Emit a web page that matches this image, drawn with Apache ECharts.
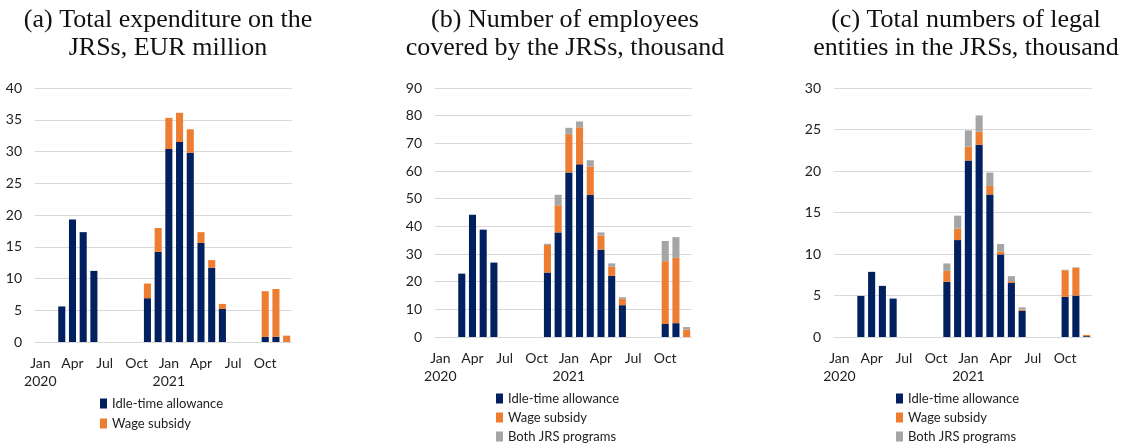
<!DOCTYPE html>
<html>
<head>
<meta charset="utf-8">
<script src="https://cdn.jsdelivr.net/npm/echarts@6/dist/echarts.min.js"></script>
<style>
  html, body { margin: 0; padding: 0; background: #fff; }
  #chart { width: 1124px; height: 443px; }
</style>
</head>
<body>
<div id="chart"></div>
<script>
// Months from Jan 2020 to Dec 2021; a label is shown every third month
const months = [
  'Jan\n2020', 'Feb', 'Mar', 'Apr', 'May', 'Jun', 'Jul', 'Aug', 'Sep', 'Oct', 'Nov', 'Dec',
  'Jan\n2021', 'Feb', 'Mar', 'Apr', 'May', 'Jun', 'Jul', 'Aug', 'Sep', 'Oct', 'Nov', 'Dec'
];

// (a) Total expenditure, EUR million
const expIdle = [null, null, 5.6, 19.3, 17.3, 11.2, null, null, null, null, 6.9, 14.2,
                 30.4, 31.5, 29.8, 15.6, 11.7, 5.2, null, null, null, 0.8, 0.8, null];
const expWage = [null, null, null, null, null, null, null, null, null, null, 2.3, 3.75,
                 4.9, 4.6, 3.7, 1.7, 1.2, 0.8, null, null, null, 7.2, 7.55, 1.0];

// (b) Employees covered, thousand
const empIdle = [null, null, 22.9, 44.2, 38.8, 26.9, null, null, null, null, 23.3, 37.8,
                 59.5, 62.4, 51.3, 31.6, 22.1, 11.5, null, null, null, 4.7, 5.0, null];
const empWage = [null, null, null, null, null, null, null, null, null, null, 10.0, 9.8,
                 13.8, 13.4, 10.3, 5.1, 3.3, 2.3, null, null, null, 22.7, 23.6, 2.7];
const empBoth = [null, null, null, null, null, null, null, null, null, null, 0.4, 3.8,
                 2.3, 2.1, 2.3, 1.1, 1.2, 0.6, null, null, null, 7.3, 7.5, 0.9];

// (c) Legal entities, thousand
const entIdle = [null, null, 4.95, 7.85, 6.16, 4.63, null, null, null, null, 6.65, 11.68,
                 21.26, 23.16, 17.16, 9.95, 6.56, 3.14, null, null, null, 4.83, 4.99, 0.1];
const entWage = [null, null, null, null, null, null, null, null, null, null, 1.32, 1.37,
                 1.66, 1.57, 1.04, 0.36, 0.17, 0.16, null, null, null, 3.22, 3.35, 0.15];
const entBoth = [null, null, null, null, null, null, null, null, null, null, 0.89, 1.57,
                 1.97, 1.97, 1.61, 0.89, 0.6, 0.28, null, null, null, 0.05, 0.05, null];

const titles = [
  '(a) Total expenditure on the\nJRSs, EUR million',
  '(b) Number of employees\ncovered by the JRSs, thousand',
  '(c) Total numbers of legal\nentities in the JRSs, thousand'
];

const IDLE = 'Idle-time allowance', WAGE = 'Wage subsidy', BOTH = 'Both JRS programs';
const NAVY = '#002060', ORANGE = '#ED7D31', GREY = '#A5A5A5';
const LABEL_FONT = 'Lato, "Open Sans", sans-serif';

const chart = echarts.init(document.getElementById('chart'), null, { renderer: 'canvas' });

const grids = [
  { left: 35, width: 257, top: 88, bottom: 101 },
  { left: 435, width: 257, top: 88, bottom: 106 },
  { left: 834, width: 258, top: 88, bottom: 106 }
];
const yMax = [40, 90, 30];
const yStep = [5, 10, 5];
const titleCenters = [163, 560, 961];

function xAxis(i) {
  return {
    type: 'category', gridIndex: i, data: months,
    axisTick: { show: false },
    axisLine: { lineStyle: { color: '#d9d9d9' } },
    axisLabel: { interval: 2, color: '#222', fontFamily: LABEL_FONT, fontSize: 14, lineHeight: 18, margin: 12 }
  };
}
function yAxis(i) {
  return {
    type: 'value', gridIndex: i, min: 0, max: yMax[i], interval: yStep[i],
    axisLine: { show: false }, axisTick: { show: false },
    splitLine: { lineStyle: { color: '#d9d9d9' } },
    axisLabel: { color: '#222', fontFamily: LABEL_FONT, fontSize: 14, margin: 13 }
  };
}
function bar(name, data, color, i) {
  return {
    name, type: 'bar', stack: 'p' + i, data,
    xAxisIndex: i, yAxisIndex: i,
    barWidth: '66%',
    itemStyle: { color },
    emphasis: { disabled: true }
  };
}
// one legend entry per component so each panel's key stacks in a single column
function legendItem(left, centerY, name) {
  return {
    left, top: centerY - 6, padding: 0, data: [name],
    icon: 'rect', itemWidth: 7, itemHeight: 10,
    selectedMode: false,
    textStyle: { fontFamily: LABEL_FONT, fontSize: 13, color: '#222' }
  };
}

chart.setOption({
  animation: false,
  title: titles.map((t, i) => ({
    text: t, left: titleCenters[i], top: 1, textAlign: 'center',
    textStyle: { fontFamily: '"Liberation Serif", "DejaVu Serif", serif', fontWeight: 'normal',
                 fontSize: 26, lineHeight: 28, color: '#111' }
  })),
  grid: grids,
  xAxis: [0, 1, 2].map(xAxis),
  yAxis: [0, 1, 2].map(yAxis),
  legend: [
    legendItem(100, 403, IDLE), legendItem(100, 423, WAGE),
    legendItem(496, 398, IDLE), legendItem(496, 417, WAGE), legendItem(496, 436, BOTH),
    legendItem(896, 398, IDLE), legendItem(896, 417, WAGE), legendItem(896, 436, BOTH)
  ],
  series: [
    bar(IDLE, expIdle, NAVY, 0),
    bar(WAGE, expWage, ORANGE, 0),
    bar(IDLE, empIdle, NAVY, 1),
    bar(WAGE, empWage, ORANGE, 1),
    bar(BOTH, empBoth, GREY, 1),
    bar(IDLE, entIdle, NAVY, 2),
    bar(WAGE, entWage, ORANGE, 2),
    bar(BOTH, entBoth, GREY, 2)
  ]
});
</script>
</body>
</html>
